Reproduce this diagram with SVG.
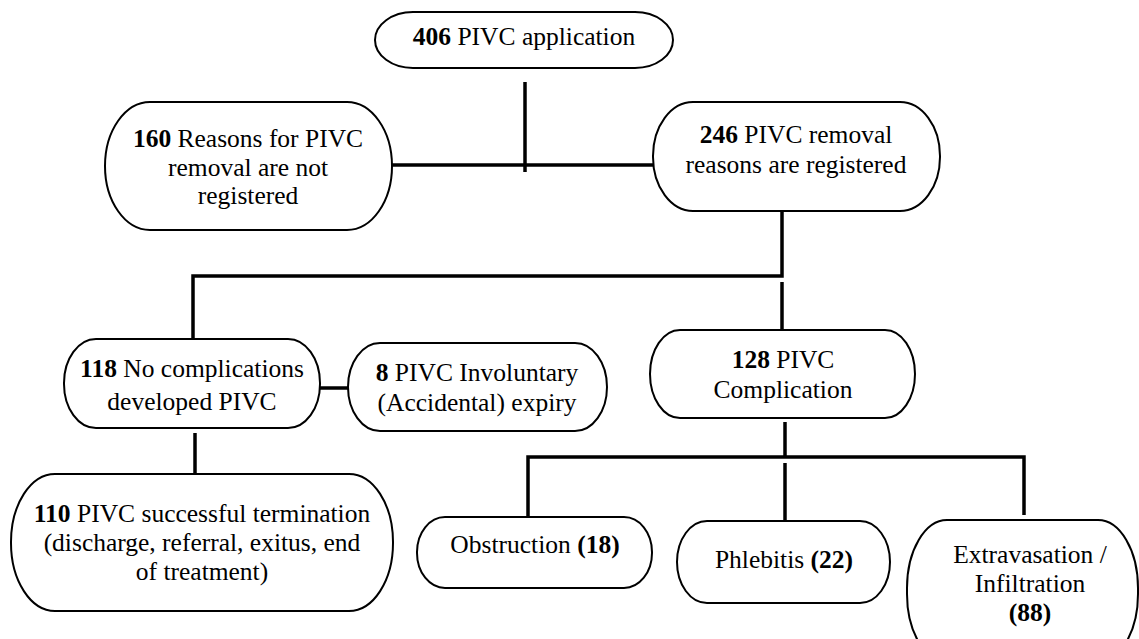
<svg xmlns="http://www.w3.org/2000/svg" width="1139" height="639" viewBox="0 0 1139 639">
<style>
.box{fill:#fff;stroke:#000;stroke-width:2}
.t{font-family:"Liberation Serif","Times New Roman",serif;font-size:25.5px;fill:#000;text-anchor:middle}
.b{font-weight:bold}
.c{stroke:#000;stroke-width:3.5;fill:none}
</style>
<rect width="1139" height="639" fill="#fff"/>
<g id="connectors">
<line class="c" x1="525" y1="82" x2="525" y2="172"/>
<line class="c" x1="392" y1="165" x2="653" y2="165"/>
<polyline class="c" points="782,211 782,276 193,276 193,339"/>
<line class="c" x1="782" y1="282" x2="782" y2="330"/>
<line class="c" x1="320" y1="388" x2="348" y2="388"/>
<line class="c" x1="195" y1="433" x2="195" y2="473"/>
<line class="c" x1="785" y1="422" x2="785" y2="457"/>
<polyline class="c" points="528,517 528,457 1024,457 1024,515"/>
<line class="c" x1="785" y1="463" x2="785" y2="521"/>
</g>
<g id="n406">
<rect class="box" x="375" y="12" width="298" height="56" rx="38" ry="28"/>
<text class="t" x="524" y="45"><tspan class="b">406</tspan> PIVC application</text>
</g>
<g id="n160">
<rect class="box" x="105" y="102" width="287" height="128" rx="45" ry="64"/>
<text class="t" x="248" y="147"><tspan class="b">160</tspan> Reasons for PIVC</text>
<text class="t" x="248" y="176">removal are not</text>
<text class="t" x="248" y="204">registered</text>
</g>
<g id="n246">
<rect class="box" x="653" y="102" width="287" height="109" rx="40" ry="54"/>
<text class="t" x="796" y="143"><tspan class="b">246</tspan> PIVC removal</text>
<text class="t" x="796" y="173">reasons are registered</text>
</g>
<g id="n118">
<rect class="box" x="64" y="339" width="256" height="89" rx="32" ry="44"/>
<text class="t" x="192" y="377"><tspan class="b">118</tspan> No complications</text>
<text class="t" x="192" y="410">developed PIVC</text>
</g>
<g id="n8">
<rect class="box" x="348" y="343" width="259" height="88" rx="32" ry="44"/>
<text class="t" x="477" y="381"><tspan class="b">8</tspan> PIVC Involuntary</text>
<text class="t" x="477" y="411">(Accidental) expiry</text>
</g>
<g id="n110">
<rect class="box" x="11" y="474" width="382" height="137" rx="44" ry="68"/>
<text class="t" x="202" y="522"><tspan class="b">110</tspan> PIVC successful termination</text>
<text class="t" x="202" y="551">(discharge, referral, exitus, end</text>
<text class="t" x="202" y="580">of treatment)</text>
</g>
<g id="n128">
<rect class="box" x="650" y="330" width="265" height="88" rx="30" ry="44"/>
<text class="t" x="783" y="368"><tspan class="b">128</tspan> PIVC</text>
<text class="t" x="783" y="398">Complication</text>
</g>
<g id="nObstruction">
<rect class="box" x="417" y="517" width="235" height="71" rx="28" ry="35"/>
<text class="t" x="535" y="553">Obstruction <tspan class="b">(18)</tspan></text>
</g>
<g id="nPhlebitis">
<rect class="box" x="677" y="521" width="213" height="82" rx="30" ry="41"/>
<text class="t" x="784" y="568">Phlebitis <tspan class="b">(22)</tspan></text>
</g>
<g id="nExtravasation">
<rect class="box" x="907" y="520" width="231" height="142" rx="40" ry="68"/>
<text class="t" x="1030" y="563">Extravasation /</text>
<text class="t" x="1030" y="592">Infiltration</text>
<text class="t b" x="1030" y="621">(88)</text>
</g>
</svg>
